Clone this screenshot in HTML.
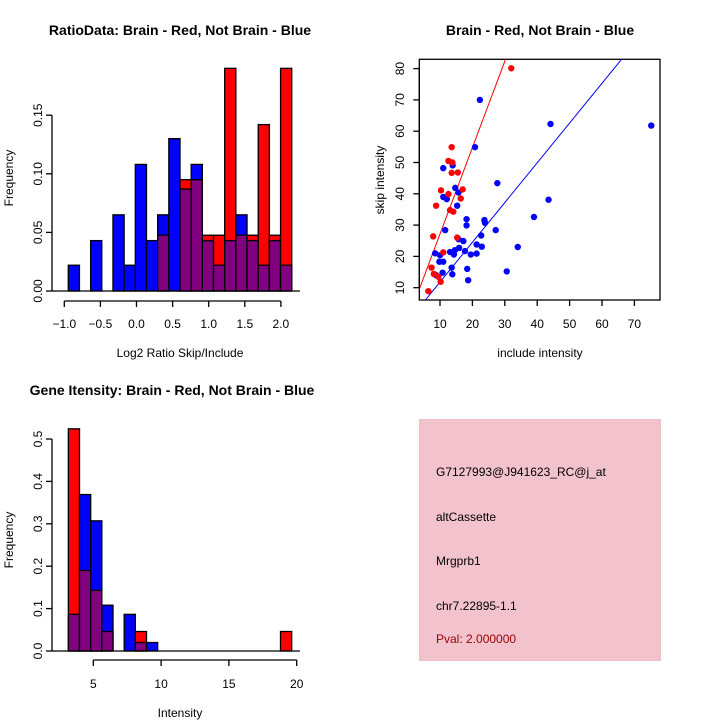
<!DOCTYPE html>
<html><head><meta charset="utf-8"><style>
html,body{margin:0;padding:0;background:#fff}
svg{display:block;font-family:"Liberation Sans",sans-serif}
</style></head><body>
<svg id="s" width="720" height="720" viewBox="0 0 720 720">
<g><text x="180" y="35" font-size="14" font-weight="bold" text-anchor="middle">RatioData: Brain - Red, Not Brain - Blue</text></g>
<text x="540" y="35" font-size="14" font-weight="bold" text-anchor="middle">Brain - Red, Not Brain - Blue</text>
<text x="172" y="395" font-size="14" font-weight="bold" text-anchor="middle">Gene Itensity: Brain - Red, Not Brain - Blue</text>
<text x="180" y="357" font-size="12" text-anchor="middle">Log2 Ratio Skip/Include</text>
<text transform="translate(13,178) rotate(-90)" font-size="12" text-anchor="middle">Frequency</text>
<text x="540" y="357" font-size="12" text-anchor="middle">include intensity</text>
<text transform="translate(384,180) rotate(-90)" font-size="12" text-anchor="middle">skip intensity</text>
<text x="180" y="717" font-size="12" text-anchor="middle">Intensity</text>
<text transform="translate(13,540) rotate(-90)" font-size="12" text-anchor="middle">Frequency</text>
<g>
<rect x="419" y="419" width="242" height="242" fill="#f2c2cd"/>
<text x="436" y="476" font-size="12">G7127993@J941623_RC@j_at</text>
<text x="436" y="521" font-size="12">altCassette</text>
<text x="436" y="565" font-size="12">Mrgprb1</text>
<text x="436" y="610" font-size="12">chr7.22895-1.1</text>
<text x="436" y="643" font-size="12" fill="#990000">Pval: 2.000000</text>
</g>
</svg>
<script>
// ratio histogram data
const ratioBlue=[0.022,0,0.043,0,0.065,0.022,0.108,0.043,0.065,0.13,0.087,0.108,0.043,0.022,0.043,0.065,0.043,0.022,0.043,0.022];
const ratioRed=[0,0,0,0,0,0,0,0,0.0476,0,0.095,0.095,0.0476,0.0476,0.19,0.0476,0.0476,0.142,0.0476,0.19];
const ratioXTicks=[-1,-0.5,0,0.5,1,1.5,2];
const ratioXLabels=["\u22121.0","\u22120.5","0.0","0.5","1.0","1.5","2.0"];
const ratioYTicks=[0,0.05,0.1,0.15];
const ratioYLabels=["0.00","0.05","0.10","0.15"];
// intensity histogram data
const intBlue=[0.0865,0.369,0.307,0.108,0,0.0865,0.02,0.02,0,0,0,0,0,0,0,0,0,0,0,0];
const intRed=[0.524,0.19,0.143,0.046,0,0,0.046,0,0,0,0,0,0,0,0,0,0,0,0,0.046];
const intXTicks=[5,10,15,20];
const intYTicks=[0,0.1,0.2,0.3,0.4,0.5];
const intYLabels=["0.0","0.1","0.2","0.3","0.4","0.5"];
// scatter data
const redX=[32.0,13.6,12.6,13.8,13.6,15.5,10.3,12.6,17.0,16.4,8.8,13.1,14.1,7.9,15.3,11.0,7.4,8.1,9.5,10.2,6.4];
const redY=[80.1,54.9,50.5,50.0,46.7,46.8,41.1,39.9,41.4,38.5,36.2,34.8,34.3,26.4,26.0,21.3,16.4,14.4,13.5,11.9,8.9];
const blueX=[22.3,20.8,44.1,75.2,11.0,13.9,27.7,14.7,15.7,11.0,12.1,15.3,43.5,39.0,18.2,18.2,23.7,23.9,11.6,27.2,15.7,17.2,22.7,21.3,22.9,34.0,15.9,17.7,14.6,13.1,8.5,10.0,14.3,19.5,21.3,9.8,11.0,13.6,18.4,30.6,10.8,8.8,13.8,18.7];
const blueY=[70.0,54.9,62.3,61.8,48.2,49.1,43.4,41.9,40.4,39.0,38.3,36.2,38.1,32.6,31.9,29.9,31.6,30.7,28.4,28.4,25.5,24.9,26.7,23.8,23.1,23.0,22.7,21.7,22.0,21.4,21.0,20.4,20.6,20.6,20.9,18.3,18.3,16.4,16.0,15.2,14.8,14.0,14.3,12.4];
const fitRed=[-0.45,2.76];
const fitBlue=[-0.9,1.27];
const scXTicks=[10,20,30,40,50,60,70];
const scYTicks=[10,20,30,40,50,60,70,80];

const S=document.getElementById('s');const NS='http://www.w3.org/2000/svg';
function mk(t,a,p){const e=document.createElementNS(NS,t);for(const k in a)e.setAttribute(k,a[k]);(p||S).appendChild(e);return e;}

function hist(name,blue,red,x0,x1,sx,sy,bl,base){
 const g=mk('g',{});
 
 
 const w=(x1-x0)/blue.length;
 blue.forEach((b,i)=>{
  const r=red[i];const xa=sx(x0+i*w),xb=sx(x0+(i+1)*w);
  const hi=Math.max(b,r),lo=Math.min(b,r);
  if(hi>0){const c=b>=r?'#0000ff':'#ff0000';
   const e=mk('rect',{x:xa,y:sy(hi),width:xb-xa,height:sy(0)-sy(hi),fill:c,stroke:'#000','stroke-width':1.3},g);
   
   }
  if(lo>0){const e=mk('rect',{x:xa,y:sy(lo),width:xb-xa,height:sy(0)-sy(lo),fill:'#800080',stroke:'#000','stroke-width':1.3},g);
   
   }
 });
 const l=mk('line',{x1:bl[0],x2:bl[1],y1:sy(0),y2:sy(0),stroke:'#000','stroke-width':1.3},g);
 
 
}
function yaxis(name,ticks,labels,sy,ax,lx){
 const g=mk('g',{stroke:'#000'});
 
 
 mk('line',{x1:ax,x2:ax,y1:sy(ticks[0]),y2:sy(ticks[ticks.length-1]),'stroke-width':1.3},g);
 ticks.forEach((t,i)=>{mk('line',{x1:ax,x2:ax-6,y1:sy(t),y2:sy(t),'stroke-width':1.3},g);
  const tx=mk('text',{transform:`translate(${lx},${sy(t)}) rotate(-90)`,'font-size':12,'text-anchor':'middle',stroke:'none'},g);tx.textContent=labels[i];});
}
function xaxis(name,ticks,labels,sx,ay,ly){
 const g=mk('g',{stroke:'#000'});
 
 
 mk('line',{x1:sx(ticks[0]),x2:sx(ticks[ticks.length-1]),y1:ay,y2:ay,'stroke-width':1.3},g);
 ticks.forEach((t,i)=>{mk('line',{x1:sx(t),x2:sx(t),y1:ay,y2:ay+6,'stroke-width':1.3},g);
  const tx=mk('text',{x:sx(t),y:ly,'font-size':12,'text-anchor':'middle',stroke:'none'},g);tx.textContent=labels[i];});
}
// ratio
const rsx=v=>64.3+(v+1)*72.2, rsy=v=>291-v*1172;
hist('ratio-histogram',ratioBlue,ratioRed,-0.945,2.15,rsx,rsy,[52,300]);
yaxis('ratio-y-axis',ratioYTicks,ratioYLabels,rsy,52,42);
xaxis('ratio-x-axis',ratioXTicks,ratioXLabels,rsx,301,328);
// intensity
const isx=v=>93.3+(v-5)*13.56, isy=v=>651-v*424;
hist('intensity-histogram',intBlue,intRed,3.16,19.63,isx,isy,[52,300]);
yaxis('intensity-y-axis',intYTicks,intYLabels,isy,52,42);
xaxis('intensity-x-axis',intXTicks,intXTicks.map(String),isx,660,688);
// scatter
const ssx=v=>440+(v-10)*3.24, ssy=v=>287.7-(v-10)*3.13;
const L=419.3,R=660,T=59.3,B=300;
const box=mk('rect',{x:L,y:T,width:R-L,height:B-T,fill:'none',stroke:'#000','stroke-width':1.3});


const cp=mk('clipPath',{id:'cp'});mk('rect',{x:L,y:T,width:R-L,height:B-T},cp);
const xmin=(L-440)/3.24+10,xmax=(R-440)/3.24+10;
[[fitRed,'#ff0000','red-fit-line'],[fitBlue,'#0000ff','blue-fit-line']].forEach(([f,c,n])=>{
 const e=mk('line',{x1:ssx(xmin),y1:ssy(f[0]+f[1]*xmin),x2:ssx(xmax),y2:ssy(f[0]+f[1]*xmax),stroke:c,'stroke-width':1,'clip-path':'url(#cp)'});
 
 
});
const pg=mk('g',{});


blueX.forEach((x,i)=>{const e=mk('circle',{cx:ssx(x),cy:ssy(blueY[i]),r:3.2,fill:'#0000ff'},pg);
 
 });
redX.forEach((x,i)=>{const e=mk('circle',{cx:ssx(x),cy:ssy(redY[i]),r:3.2,fill:'#ff0000'},pg);
 
 });
yaxis('scatter-y-axis',scYTicks,scYTicks.map(String),ssy,L,404);
{const g=mk('g',{stroke:'#000'});
 
 
 scXTicks.forEach(t=>{mk('line',{x1:ssx(t),x2:ssx(t),y1:B,y2:B+6,'stroke-width':1.3},g);
  const tx=mk('text',{x:ssx(t),y:328,'font-size':12,'text-anchor':'middle',stroke:'none'},g);tx.textContent=String(t);});}
</script>
</body></html>
